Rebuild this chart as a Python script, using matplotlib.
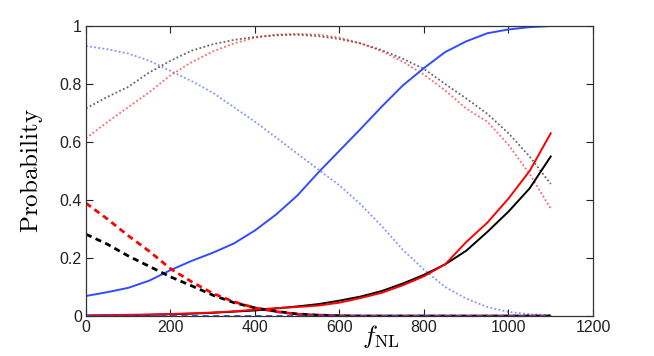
import matplotlib
matplotlib.use("Agg")
import matplotlib.pyplot as plt

plt.rcParams['mathtext.fontset'] = 'cm'
plt.rcParams['font.family'] = ['Liberation Sans', 'DejaVu Sans']

fnl = [0, 50, 100, 150, 200, 250, 300, 350, 400, 450, 500, 550, 600,
       650, 700, 750, 800, 850, 900, 950, 1000, 1050, 1100]

blue_solid = [0.069, 0.082, 0.097, 0.122, 0.158, 0.19, 0.218, 0.25, 0.295, 0.35, 0.415, 0.495, 0.57,
              0.645, 0.722, 0.795, 0.855, 0.91, 0.947, 0.975, 0.988, 0.996, 1.0]
blue_dotted = [0.931, 0.92, 0.905, 0.88, 0.845, 0.81, 0.77, 0.72, 0.67, 0.615, 0.56, 0.505, 0.45,
               0.385, 0.31, 0.228, 0.16, 0.10, 0.06, 0.031, 0.014, 0.006, 0.003]
blue_dashed = [0.0] * 23

black_dotted = [0.716, 0.755, 0.79, 0.84, 0.88, 0.915, 0.937, 0.952, 0.962, 0.968, 0.97, 0.965, 0.955,
                0.94, 0.917, 0.887, 0.852, 0.80, 0.75, 0.697, 0.63, 0.55, 0.455]
red_dotted = [0.613, 0.668, 0.72, 0.772, 0.83, 0.875, 0.912, 0.94, 0.96, 0.97, 0.973, 0.97, 0.96,
              0.94, 0.913, 0.877, 0.832, 0.778, 0.715, 0.67, 0.59, 0.49, 0.37]

red_solid = [0.002, 0.003, 0.004, 0.005, 0.007, 0.009, 0.012, 0.016, 0.022, 0.027, 0.031, 0.036, 0.046,
             0.062, 0.08, 0.106, 0.137, 0.178, 0.255, 0.322, 0.405, 0.50, 0.63]
black_solid = [0.001, 0.002, 0.003, 0.004, 0.006, 0.008, 0.011, 0.015, 0.019, 0.026, 0.033, 0.041, 0.053,
               0.067, 0.086, 0.112, 0.142, 0.178, 0.225, 0.29, 0.36, 0.44, 0.55]

red_dashed = [0.389, 0.335, 0.277, 0.223, 0.163, 0.118, 0.078, 0.049, 0.028, 0.015, 0.006, 0.003, 0.001,
              0.0, 0.0, 0.0, 0.0, 0.0, 0.0, 0.0, 0.0, 0.0, 0.0]
black_dashed = [0.282, 0.248, 0.207, 0.171, 0.135, 0.104, 0.072, 0.046, 0.028, 0.016, 0.007, 0.003, 0.001,
                0.0, 0.0, 0.0, 0.0, 0.0, 0.0, 0.0, 0.0, 0.0, 0.0]

xticks = [0, 200, 400, 600, 800, 1000, 1200]
yticks = [0, 0.2, 0.4, 0.6, 0.8, 1]
ytick_labels = ['0', '0.2', '0.4', '0.6', '0.8', '1']

BLUE = '#2f4dff'
RED = '#ff0000'
BLACK = '#000000'

fig = plt.figure(figsize=(6.54, 3.56), dpi=100)
ax = fig.add_axes([0.1315, 0.1124, 0.7752, 0.8146])

dot = (0, (1, 1.3))
dash = (0, (2.2, 1.6))

ax.plot(fnl, blue_dotted, color=BLUE, lw=1.3, ls=dot, alpha=0.6)
ax.plot(fnl, black_dotted, color=BLACK, lw=1.3, ls=dot, alpha=0.6)
ax.plot(fnl, red_dotted, color=RED, lw=1.3, ls=dot, alpha=0.6)
ax.plot(fnl, blue_solid, color=BLUE, lw=1.4)
ax.plot(fnl, black_solid, color=BLACK, lw=1.4)
ax.plot(fnl, red_solid, color=RED, lw=1.4)
ax.plot(fnl, black_dashed, color=BLACK, lw=2.0, ls=dash)
ax.plot(fnl, red_dashed, color=RED, lw=2.0, ls=dash)
ax.plot(fnl, blue_dashed, color=BLUE, lw=2.0, ls=dash)

ax.set_xlim(0, 1200)
ax.set_ylim(0, 1)
ax.set_xticks(xticks)
ax.set_xticklabels([str(t) for t in xticks])
ax.set_yticks(yticks)
ax.set_yticklabels(ytick_labels)
ax.tick_params(direction='in', top=True, right=True, length=5, width=0.8,
               labelsize=11.5, colors='#222222', pad=3)
for s in ax.spines.values():
    s.set_linewidth(0.9)
    s.set_color('#333333')

ax.set_xlabel(r'$f_{\rm NL}$', fontsize=18)
ax.xaxis.set_label_coords(0.582, -0.025)
ax.set_ylabel(r'$\mathrm{Probability}$', fontsize=18)
ax.yaxis.set_label_coords(-0.08, 0.5)

fig.savefig('out.png', dpi=100)
